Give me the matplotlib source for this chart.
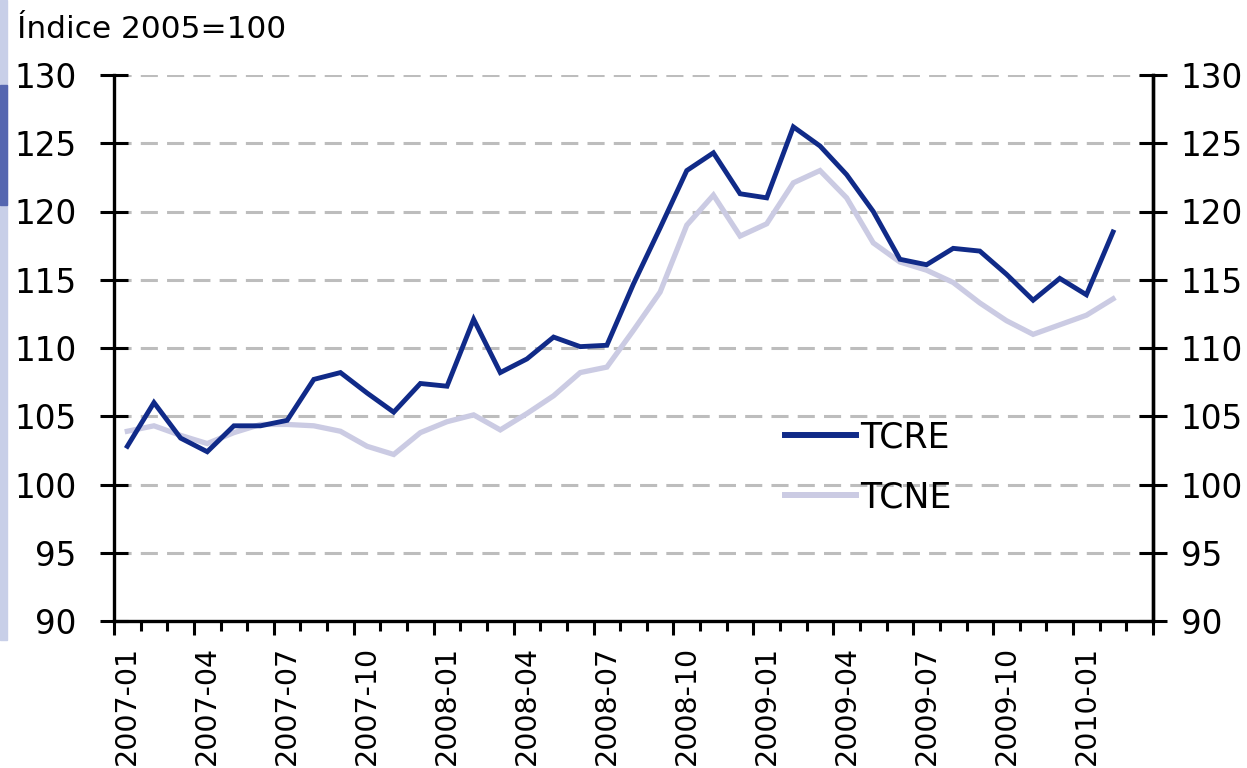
import matplotlib
matplotlib.use("Agg")
import matplotlib.pyplot as plt
from matplotlib.lines import Line2D
from matplotlib.patches import Rectangle
import numpy as np

months = [f"{y}-{m:02d}" for y in (2007, 2008, 2009, 2010) for m in range(1, 13)][:39]
tcre = [102.8, 106.0, 103.4, 102.4, 104.3, 104.3, 104.7, 107.7, 108.2, 106.7,
        105.3, 107.4, 107.2, 112.1, 108.2, 109.2, 110.8, 110.1, 110.2, 114.7,
        118.8, 123.0, 124.3, 121.3, 121.0, 126.2, 124.8, 122.7, 120.0, 116.5,
        116.1, 117.3, 117.1, 115.4, 113.5, 115.1, 113.9, 118.5]
tcne = [103.9, 104.3, 103.6, 103.0, 103.8, 104.4, 104.4, 104.3, 103.9, 102.8,
        102.2, 103.8, 104.6, 105.1, 104.0, 105.2, 106.5, 108.2, 108.6, 111.3,
        114.1, 119.0, 121.2, 118.2, 119.1, 122.1, 123.0, 121.0, 117.7, 116.3,
        115.7, 114.8, 113.3, 112.0, 111.0, 111.7, 112.4, 113.6]
yticks = [90, 95, 100, 105, 110, 115, 120, 125, 130]
ylabel = "Índice 2005=100"
series_names = ["TCRE", "TCNE"]

DARK = "#102a88"
LIGHT = "#cbcbe3"
W, H = 1247, 768
fig = plt.figure(figsize=(W / 100, H / 100), dpi=100)
plt.rcParams['font.family'] = ['DejaVu Sans']

# left edge decorative strip (slide background)
fig.patches.append(Rectangle((0, 1 - 640 / H), 7 / W, 640 / H, transform=fig.transFigure,
                             color="#c8cfe8", zorder=0))
fig.patches.append(Rectangle((0, 1 - 205 / H), 7 / W, 120 / H, transform=fig.transFigure,
                             color="#5566b0", zorder=0))

ax = fig.add_axes([114 / W, 1 - 621 / H, (1153 - 114) / W, (621 - 75) / H])
n = len(months)
x = np.arange(len(tcre)) + 0.5
ax.plot(x, tcne, color=LIGHT, lw=3.8, solid_joinstyle="miter", zorder=3)
ax.plot(x, tcre, color=DARK, lw=3.5, solid_joinstyle="miter", zorder=4)

ax.set_xlim(0, n)
ax.set_ylim(90, 130)
ax.set_yticks(yticks)
ax.set_yticklabels([str(v) for v in yticks])
for v in yticks[1:]:
    ax.axhline(v, color="#bdbdbd", lw=2.2, dashes=(5.6, 3), zorder=1)

ax.spines["top"].set_visible(False)
for s in ("left", "right", "bottom"):
    ax.spines[s].set_linewidth(2.4)
    ax.spines[s].set_color("black")

ax.tick_params(axis="y", direction="inout", length=20, width=2.2, labelsize=23.5, pad=17,
               left=True, right=False)

# right axis duplicate
ax2 = ax.twinx()
ax2.set_ylim(90, 130)
ax2.set_yticks(yticks)
ax2.set_yticklabels([str(v) for v in yticks])
ax2.tick_params(axis="y", direction="inout", length=20, width=2.2, labelsize=23.5, pad=10)
for s in ("top", "left", "bottom"):
    ax2.spines[s].set_visible(False)
ax2.spines["right"].set_linewidth(2.4)

# category labels at centers
lab_idx = list(range(0, n, 3))
ax.set_xticks([i + 0.5 for i in lab_idx])
ax.set_xticklabels([months[i] for i in lab_idx], rotation=90, fontsize=20.5, va="top", ha="center")
ax.tick_params(axis="x", length=0, pad=18)

# boundary tick marks
sec = ax.secondary_xaxis("bottom")
sec.set_xticks(np.arange(0, n + 1, 3))
sec.set_xticks(np.arange(0, n + 1, 1), minor=True)
sec.tick_params(axis="x", which="major", length=10, width=2.2, labelbottom=False)
sec.tick_params(axis="x", which="minor", length=7, width=2.2)
sec.spines["bottom"].set_visible(False)

fig.text(17 / W, 1 - 38 / H, ylabel, fontsize=22.5, ha="left", va="baseline")

handles = [Line2D([], [], color=DARK, lw=4.3), Line2D([], [], color=LIGHT, lw=4.3)]
ax.legend(handles, series_names, loc="upper left",
          bbox_to_anchor=(785 / W, 1 - 420 / H), bbox_transform=fig.transFigure,
          frameon=False, fontsize=25, handlelength=2.05, handletextpad=0.12,
          borderpad=0, borderaxespad=0, labelspacing=0.75)

fig.savefig("out.png", dpi=100)
